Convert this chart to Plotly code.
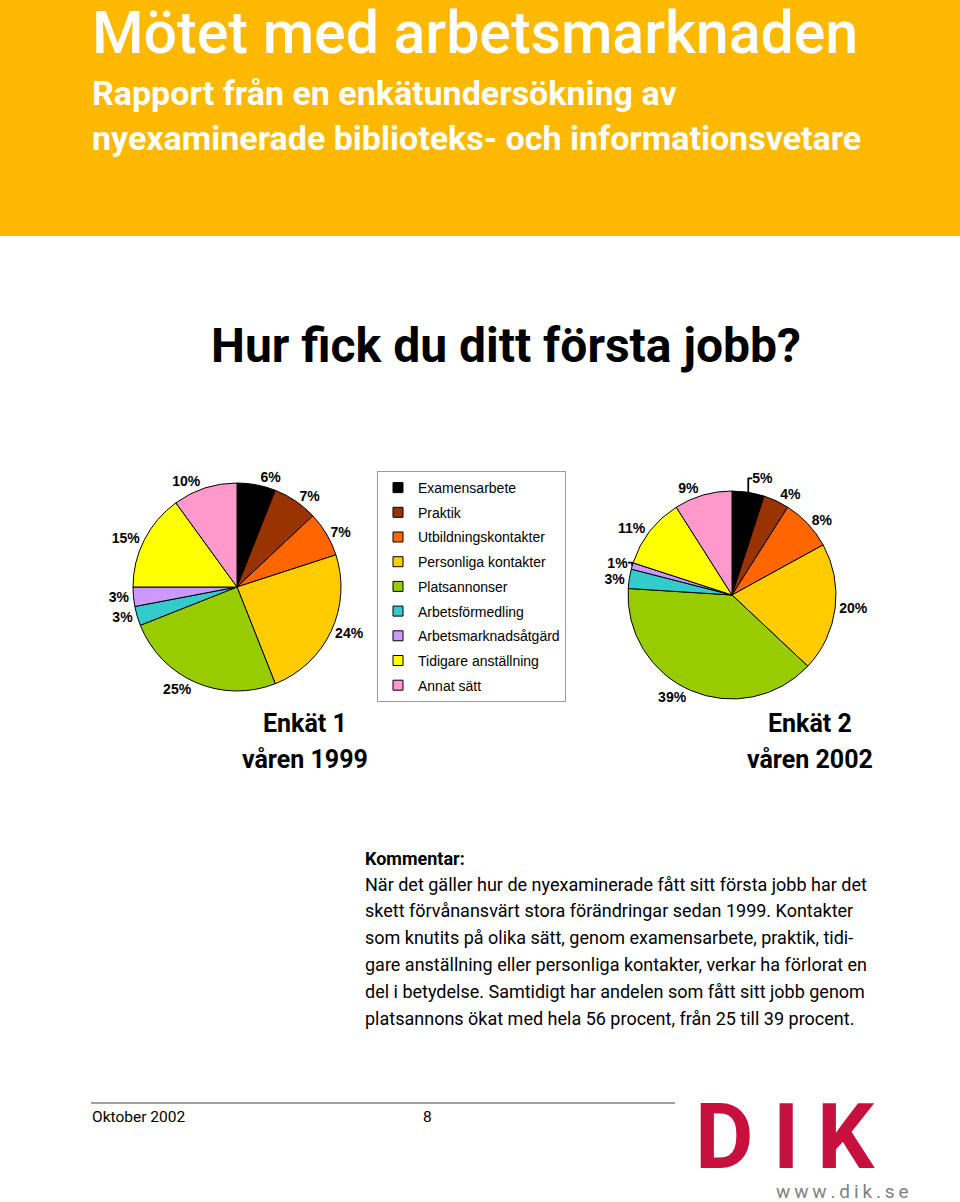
import plotly.graph_objects as go

# ---------------- data ----------------
categories = [
    "Examensarbete",
    "Praktik",
    "Utbildningskontakter",
    "Personliga kontakter",
    "Platsannonser",
    "Arbetsförmedling",
    "Arbetsmarknadsåtgärd",
    "Tidigare anställning",
    "Annat sätt",
]
enkat1_1999 = [6, 7, 7, 24, 25, 3, 3, 15, 10]
enkat2_2002 = [5, 4, 8, 20, 39, 3, 1, 11, 9]
slice_colors = ["#000000", "#993300", "#FF6600", "#FFCC00", "#99CC00",
                "#33CCCC", "#CC99FF", "#FFFF00", "#FF99CC"]

title_text = "Mötet med arbetsmarknaden"
subtitle_lines = ["Rapport från en enkätundersökning av",
                  "nyexaminerade biblioteks- och informationsvetare"]
heading_text = "Hur fick du ditt första jobb?"
pie1_caption = ["Enkät 1", "våren 1999"]
pie2_caption = ["Enkät 2", "våren 2002"]
comment_title = "Kommentar:"
comment_lines = [
    "När det gäller hur de nyexaminerade fått sitt första jobb har det",
    "skett förvånansvärt stora förändringar sedan 1999. Kontakter",
    "som knutits på olika sätt, genom examensarbete, praktik, tidi-",
    "gare anställning eller personliga kontakter, verkar ha förlorat en",
    "del i betydelse. Samtidigt har andelen som fått sitt jobb genom",
    "platsannons ökat med hela 56 procent, från 25 till 39 procent.",
]
footer_date = "Oktober 2002"
footer_page = "8"
logo_letters = ["D", "I", "K"]
logo_url = "w\u2009w\u2009w\u2009.\u2009d\u2009i\u2009k\u2009.\u2009s\u2009e"

# ---------------- helpers ----------------
W, H = 960, 1202
def px(x):
    return x / W
def py(y):
    return 1 - y / H

COND = "Roboto, Liberation Sans, sans-serif"
ARIAL = "Liberation Sans, Arial, sans-serif"

def pie_domain(cx, cy, r):
    return dict(x=[px(cx - r), px(cx + r)], y=[py(cy + r), py(cy - r)])

fig = go.Figure()

for vals, dom in [(enkat1_1999, pie_domain(237, 587, 104)),
                  (enkat2_2002, pie_domain(732, 595, 104))]:
    fig.add_trace(go.Pie(
        labels=categories, values=vals,
        marker=dict(colors=slice_colors, line=dict(color="black", width=1)),
        sort=False, direction="clockwise", rotation=0,
        textposition="outside", texttemplate="%{value}%",
        textfont=dict(family=ARIAL, size=14, color="black", weight="bold"),
        domain=dom, showlegend=False, hoverinfo="label+value",
    ))

# legend entries
for i, (c, col) in enumerate(zip(categories, slice_colors)):
    fig.add_trace(go.Scatter(
        x=[None], y=[None], mode="markers", name=c,
        marker=dict(symbol="square", size=10, color=col,
                    line=dict(color="black", width=1)),
        legendgroup=f"g{i}", showlegend=True, hoverinfo="skip",
    ))

annotations = []
def text(t, x, y, size, color="black", family=COND, weight="normal",
         xanchor="left"):
    annotations.append(dict(
        text=t, x=px(x), y=py(y), xref="paper", yref="paper",
        xanchor=xanchor, yanchor="middle", showarrow=False,
        font=dict(family=family, size=size, color=color, weight=weight)))

text(title_text, 90, 33, 59, color="white", weight=500)
text(subtitle_lines[0], 90, 93, 34, color="white", weight="bold")
text(subtitle_lines[1], 90, 138, 34, color="white", weight="bold")
text(heading_text, 506, 346, 48, weight="bold", xanchor="center")
text(pie1_caption[0], 305, 723, 25, weight="bold", xanchor="center")
text(pie1_caption[1], 305, 759, 25, weight="bold", xanchor="center")
text(pie2_caption[0], 810, 723, 25, weight="bold", xanchor="center")
text(pie2_caption[1], 810, 759, 25, weight="bold", xanchor="center")
text(comment_title, 363, 858, 18, weight="bold")
for k, line in enumerate(comment_lines):
    text(line, 363, 884 + 26.8 * k, 18)
text(footer_date, 90, 1117, 15.5)
text(footer_page, 427, 1117, 15.5, xanchor="center")
for letter, cx in zip(logo_letters, [724, 786, 846]):
    text(letter, cx, 1137, 90, color="#C8103F", weight="bold", xanchor="center")
text(logo_url, 842, 1191, 19, color="#7f7f7f", xanchor="center")

shapes = [
    dict(type="rect", xref="paper", yref="paper", x0=0, x1=1,
         y0=py(236), y1=1, fillcolor="#FDB800", line=dict(width=0), layer="below"),
    dict(type="line", xref="paper", yref="paper", x0=px(91), x1=px(675),
         y0=py(1103), y1=py(1103), line=dict(color="#808080", width=1.5)),
]

fig.update_layout(
    width=W, height=H,
    margin=dict(l=0, r=0, t=0, b=0),
    paper_bgcolor="white", plot_bgcolor="white",
    xaxis=dict(visible=False), yaxis=dict(visible=False),
    legend=dict(x=px(377), y=py(471), xanchor="left", yanchor="top",
                bordercolor="#9a9a9a", borderwidth=1, bgcolor="white",
                font=dict(family=ARIAL, size=14, color="black"),
                tracegroupgap=3.5, itemsizing="trace"),
    annotations=annotations, shapes=shapes,
)

fig.write_html("out.html", config={"displayModeBar": False},
               post_script="document.body.style.margin='0px';")
